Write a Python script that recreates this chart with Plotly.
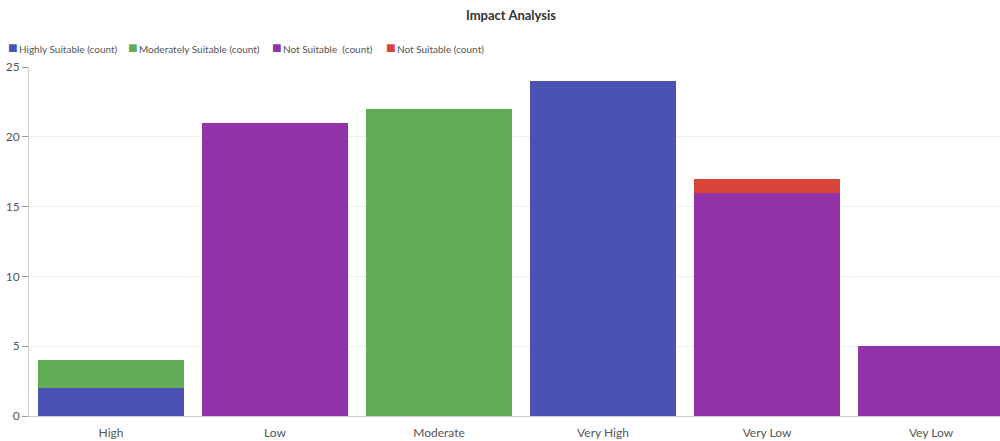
import plotly.graph_objects as go

categories = ["High", "Low", "Moderate", "Very High", "Very Low", "Vey Low"]
highly_suitable = [2, 0, 0, 24, 0, 0]
moderately_suitable = [2, 0, 22, 0, 0, 0]
not_suitable_a = [0, 21, 0, 0, 16, 5]
not_suitable_b = [0, 0, 0, 0, 1, 0]

series = [
    ("Highly Suitable (count)", highly_suitable, "#4A53B3"),
    ("Moderately Suitable (count)", moderately_suitable, "#62AC56"),
    ("Not Suitable\u00a0 (count)", not_suitable_a, "#9333A8"),
    ("Not Suitable (count)", not_suitable_b, "#D9443A"),
]

# left pixel of each legend entry along the top row
legend_x_px = [6, 126, 270, 384]

PLOT_LEFT = 29
PLOT_W = 1000 - PLOT_LEFT

fig = go.Figure()
for name, vals, color in series:
    fig.add_trace(go.Bar(
        x=categories, y=vals, name=name, showlegend=False,
        marker=dict(color=color, line=dict(width=0)),
    ))

font_family = "Lato, 'Open Sans', sans-serif"

# compact single-row legend: coloured square glyph + series name
for (name, _, color), px in zip(series, legend_x_px):
    fig.add_annotation(
        xref="paper", yref="paper",
        x=(px - PLOT_LEFT) / PLOT_W, y=(441 - 25 - 47) / (441 - 67 - 25),
        xanchor="left", yanchor="middle", showarrow=False,
        text=(f"<span style='color:{color}; font-size:16px'>■</span>"
              f"<span style='font-size:5px'> </span>{name}"),
        font=dict(size=10, color="#555", family=font_family),
    )

fig.update_layout(
    barmode="stack",
    bargap=0.104,
    width=1000, height=441,
    margin=dict(l=PLOT_LEFT, r=0, t=67, b=25),
    paper_bgcolor="white", plot_bgcolor="white",
    font=dict(family=font_family, size=12, color="#555"),
    title=dict(text="<b>Impact Analysis</b>", x=0.511, xanchor="center",
               y=0.965, yanchor="middle",
               font=dict(size=13, color="#333", family=font_family)),
    showlegend=False,
    xaxis=dict(range=[-0.5, -0.5 + PLOT_W / 164.0], showgrid=False, showline=True,
               linecolor="#ccc", linewidth=1, ticks="", ticklabelstandoff=6,
               tickfont=dict(size=12, color="#555")),
    yaxis=dict(range=[0, 25], dtick=5, showgrid=True, gridcolor="#eee",
               showline=True, linecolor="#ccc", linewidth=1,
               ticks="outside", ticklen=6, tickcolor="#999",
               tickfont=dict(size=12, color="#555"), zeroline=False),
)

fig.write_html("out.html")
